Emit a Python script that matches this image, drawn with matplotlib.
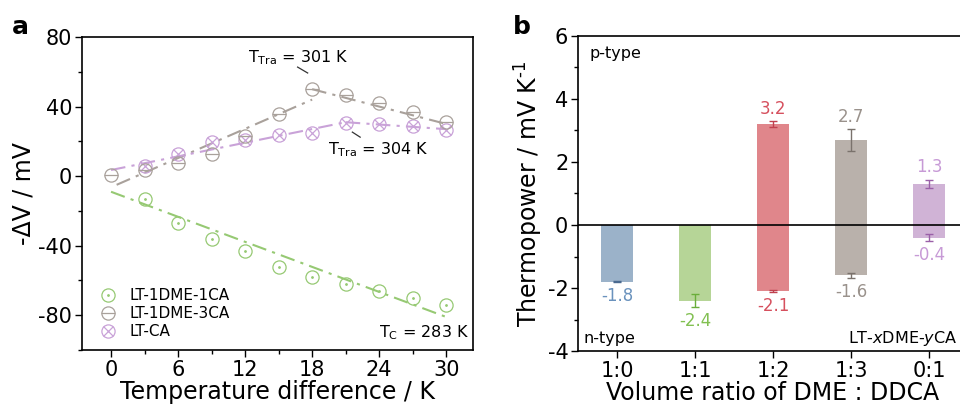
import matplotlib
matplotlib.use('Agg')
import matplotlib.pyplot as plt
import numpy as np
from matplotlib.ticker import MultipleLocator
from matplotlib.legend_handler import HandlerTuple

plt.rcParams['font.family'] = ['DejaVu Sans']
plt.rcParams['mathtext.fontset'] = 'dejavusans'
plt.rcParams['axes.unicode_minus'] = False

# ---------------- Panel a data ----------------
dT_green = [3, 6, 9, 12, 15, 18, 21, 24, 27, 30]
dV_green = [-13, -27, -36, -43, -52, -58, -62, -66, -70, -74]
dT_gray = [0, 3, 6, 9, 12, 15, 18, 21, 24, 27, 30]
dV_gray = [0.5, 3.5, 7.5, 13, 23, 36, 50, 46.5, 42, 37, 31]
dT_purple = [3, 6, 9, 12, 15, 18, 21, 24, 27, 30]
dV_purple = [6, 13, 19.6, 21, 23.6, 25, 30.5, 30, 29, 26.5]

fit_green_x = [0, 30]
fit_green_y = [-9, -81]
fit_gray1_x = [0.5, 18]
fit_gray1_y = [-5, 44]
fit_gray2_x = [18, 30]
fit_gray2_y = [50, 30]
fit_purple1_x = [0, 21]
fit_purple1_y = [3.5, 31]
fit_purple2_x = [21, 30]
fit_purple2_y = [31, 27]

# ---------------- Panel b data ----------------
ratios = ['1:0', '1:1', '1:2', '1:3', '0:1']
pos_vals = [np.nan, np.nan, 3.2, 2.7, 1.3]
pos_err = [np.nan, np.nan, 0.09, 0.34, 0.14]
neg_vals = [-1.8, -2.4, -2.1, -1.6, -0.4]
neg_err = [0.02, 0.2, 0.04, 0.08, 0.1]

bar_colors = ['#9bb2c9', '#b6d597', '#e0868b', '#b9b1ab', '#d0b3d6']
lab_colors = ['#6a92bd', '#82c052', '#d6505e', '#9a928c', '#c79ad6']
err_colors = ['#4a6a90', '#6aae3a', '#c0404e', '#7a726c', '#9a60a8']

c_green = '#96c973'
c_gray = '#a9a19b'
c_purple = '#c9a2d8'

fig = plt.figure(figsize=(9.6, 4.08), dpi=100)
ax1 = fig.add_axes([82/960, 58/408, 391/960, 313/408])
ax2 = fig.add_axes([578/960, 57/408, 390/960, 315/408])

TICK = 15
LAB = 17

# ---- panel a ----
ls = (0, (7, 3, 1.5, 3))
ax1.plot(fit_green_x, fit_green_y, color=c_green, lw=1.5, ls=ls)
ax1.plot(fit_gray1_x, fit_gray1_y, color=c_gray, lw=1.5, ls=ls)
ax1.plot(fit_gray2_x, fit_gray2_y, color=c_gray, lw=1.5, ls=ls)
ax1.plot(fit_purple1_x, fit_purple1_y, color=c_purple, lw=1.5, ls=ls)
ax1.plot(fit_purple2_x, fit_purple2_y, color=c_purple, lw=1.5, ls=ls)

ms = 9.5
g1, = ax1.plot(dT_green, dV_green, 'o', mfc='none', mec=c_green, ms=ms, mew=0.9)
g2, = ax1.plot(dT_green, dV_green, '.', color=c_green, ms=2)
p1, = ax1.plot(dT_purple, dV_purple, 'o', mfc='none', mec=c_purple, ms=ms, mew=0.9)
p2, = ax1.plot(dT_purple, dV_purple, 'x', color=c_purple, ms=6.5, mew=0.9)
h1, = ax1.plot(dT_gray, dV_gray, 'o', mfc='none', mec=c_gray, ms=ms, mew=0.9)
h2, = ax1.plot(dT_gray, dV_gray, '_', color=c_gray, ms=ms, mew=0.9)

ax1.set_xlim(-2.6, 32.4)
ax1.set_ylim(-100, 80)
ax1.xaxis.set_major_locator(MultipleLocator(6))
ax1.xaxis.set_minor_locator(MultipleLocator(3))
ax1.yaxis.set_major_locator(MultipleLocator(40))
ax1.yaxis.set_minor_locator(MultipleLocator(20))
ax1.tick_params(axis='both', which='major', direction='out', length=5, width=1.0, labelsize=TICK, pad=2)
ax1.tick_params(axis='both', which='minor', direction='out', length=3, width=1.0)
for s in ax1.spines.values():
    s.set_linewidth(1.2)
ax1.set_xlabel('Temperature difference / K', fontsize=LAB, labelpad=0)
ax1.set_ylabel('-ΔV / mV', fontsize=LAB, labelpad=2)

ax1.text(12.3, 68, r'T$_{\mathrm{Tra}}$ = 301 K', fontsize=11.5, va='center', ha='left')
ax1.plot([16.7, 17.6], [62.7, 59.3], color='#333333', lw=0.9)
ax1.text(19.4, 15, r'T$_{\mathrm{Tra}}$ = 304 K', fontsize=11.5, va='center', ha='left')
ax1.plot([21.6, 22.3], [25.3, 22.4], color='#333333', lw=0.9)
ax1.text(32.1, -90, r'T$_{\mathrm{C}}$ = 283 K', fontsize=11.5, va='center', ha='right')

leg = ax1.legend([(g1, g2), (h1, h2), (p1, p2)], ['LT-1DME-1CA', 'LT-1DME-3CA', 'LT-CA'],
                 handler_map={tuple: HandlerTuple(ndivide=1)},
                 loc='lower left', bbox_to_anchor=(0.015, 0.0), frameon=False, fontsize=11,
                 handlelength=1.2, handletextpad=0.8, labelspacing=0.2, borderaxespad=0.3)

fig.text(12/960, 1 - 27/408, 'a', fontsize=18, fontweight='bold', va='center', ha='left')
fig.text(513/960, 1 - 27/408, 'b', fontsize=18, fontweight='bold', va='center', ha='left')

# ---- panel b ----
x = np.arange(len(ratios))
ax2.bar(x, neg_vals, width=0.4, color=bar_colors, zorder=2)
ax2.bar(x, pos_vals, width=0.4, color=bar_colors, zorder=2)
for i in range(len(ratios)):
    ax2.errorbar(x[i], neg_vals[i], yerr=neg_err[i], color=err_colors[i], capsize=3, lw=1.0, capthick=1.0, zorder=3)
    ax2.annotate(f'{neg_vals[i]:.1f}', xy=(x[i], neg_vals[i] - neg_err[i]), xytext=(0, -10),
                 textcoords='offset points', ha='center', va='center', fontsize=12, color=lab_colors[i])
    if not np.isnan(pos_vals[i]):
        ax2.errorbar(x[i], pos_vals[i], yerr=pos_err[i], color=err_colors[i], capsize=3, lw=1.0, capthick=1.0, zorder=3)
        ax2.annotate(f'{pos_vals[i]:.1f}', xy=(x[i], pos_vals[i] + pos_err[i]), xytext=(0, 9),
                     textcoords='offset points', ha='center', va='center', fontsize=12, color=lab_colors[i])
ax2.axhline(0, color='black', lw=1.2, zorder=4)

ax2.set_xlim(-0.5, 4.5)
ax2.set_ylim(-4, 6)
ax2.set_xticks(x)
ax2.set_xticklabels(ratios)
ax2.yaxis.set_major_locator(MultipleLocator(2))
ax2.yaxis.set_minor_locator(MultipleLocator(1))
ax2.tick_params(axis='both', which='major', direction='out', length=5, width=1.0, labelsize=TICK, pad=2)
ax2.tick_params(axis='both', which='minor', direction='out', length=3, width=1.0)
for s in ax2.spines.values():
    s.set_linewidth(1.2)
ax2.set_xlabel('Volume ratio of DME : DDCA', fontsize=LAB, labelpad=0)
ax2.set_ylabel(r'Thermopower / mV K$^{\text{-1}}$', fontsize=LAB, labelpad=2)

ax2.text(0.03, 0.946, 'p-type', transform=ax2.transAxes, fontsize=11.5, va='center', ha='left')
ax2.text(0.015, 0.041, 'n-type', transform=ax2.transAxes, fontsize=11.5, va='center', ha='left')
ax2.text(0.974, 0.041, r'LT-$\mathit{x}$DME-$\mathit{y}$CA', transform=ax2.transAxes,
         fontsize=11.5, va='center', ha='right')

fig.savefig('out.png', dpi=100)
